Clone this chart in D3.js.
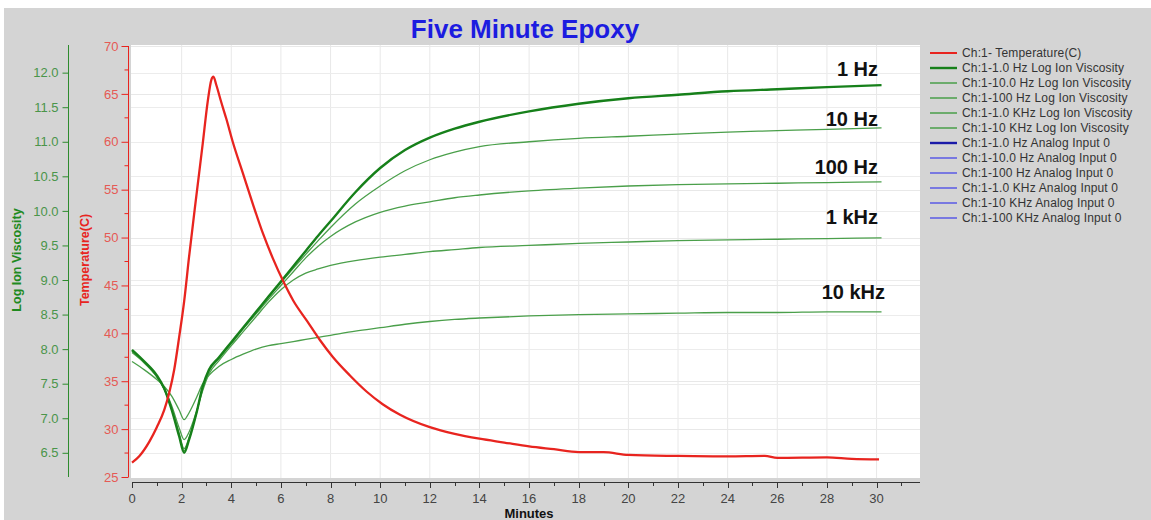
<!DOCTYPE html>
<html><head><meta charset="utf-8">
<script src="https://cdn.jsdelivr.net/npm/d3@7"></script>
<style>
html,body{margin:0;padding:0;background:#fff;}
svg{display:block;font-family:Arial,"Liberation Sans",sans-serif;}
</style></head>
<body><svg id="chart" width="1151" height="520"></svg>
<script>
// ---------- DATA ----------
const chartTitle = "Five Minute Epoxy";
const xTitle = "Minutes";
const yViscTitle = "Log Ion Viscosity";
const yTempTitle = "Temperature(C)";

const tempTime = [0,0.3,0.7,1.0,1.3,1.5,1.7,1.9,2.1,2.3,2.6,2.85,3.05,3.2,3.28,3.4,3.6,3.8,4.07,4.47,4.87,5.28,5.68,6.1,6.5,7.05,7.57,8.1,8.78,9.46,10.1,10.8,12,13,14,15,16,17,18,19,20,22,24,25.5,26,28,29,30.1];
const tempValues = [26.5,27.2,28.7,30.2,32.0,33.8,36.2,39.6,43.3,48.0,54.5,59.8,64.2,66.5,66.8,65.9,64.1,62.4,59.9,56.7,53.5,50.4,47.8,45.4,43.4,41.3,39.3,37.5,35.6,33.9,32.6,31.5,30.2,29.5,29.0,28.6,28.2,27.9,27.6,27.6,27.3,27.2,27.15,27.2,27.0,27.05,26.9,26.85];

const viscTime = [0,0.5,1.0,1.3,1.6,1.9,2.1,2.3,2.6,2.85,3.1,3.5,4,4.5,5,5.5,6,6.5,7,7.5,8,9,10,11,12,13,14,16,18,20,22,24,26,28,30.2];
const visc1Hz   = [7.99,7.82,7.62,7.43,7.12,6.74,6.50,6.69,7.08,7.46,7.70,7.88,8.10,8.32,8.54,8.76,8.98,9.20,9.42,9.64,9.85,10.27,10.62,10.88,11.06,11.19,11.29,11.44,11.55,11.63,11.68,11.73,11.76,11.79,11.82];
const visc10Hz  = [7.97,7.81,7.61,7.42,7.13,6.76,6.53,6.70,7.08,7.45,7.69,7.87,8.09,8.31,8.53,8.75,8.96,9.17,9.37,9.57,9.76,10.10,10.36,10.58,10.74,10.85,10.93,11.00,11.05,11.08,11.11,11.14,11.16,11.18,11.20];
const visc100Hz = [7.97,7.80,7.60,7.42,7.14,6.78,6.56,6.72,7.08,7.44,7.68,7.86,8.08,8.30,8.51,8.72,8.92,9.12,9.32,9.49,9.63,9.84,9.98,10.07,10.13,10.19,10.23,10.29,10.33,10.36,10.38,10.39,10.40,10.41,10.42];
const visc1kHz  = [7.95,7.80,7.60,7.43,7.18,6.86,6.69,6.80,7.10,7.40,7.64,7.83,8.05,8.26,8.47,8.68,8.86,9.00,9.10,9.16,9.21,9.28,9.33,9.37,9.41,9.44,9.47,9.50,9.53,9.55,9.57,9.58,9.59,9.60,9.61];
const visc10kHz = [7.82,7.70,7.56,7.46,7.32,7.12,6.98,7.08,7.30,7.50,7.62,7.75,7.85,7.93,8.00,8.05,8.08,8.11,8.14,8.17,8.20,8.26,8.31,8.36,8.40,8.43,8.45,8.48,8.50,8.51,8.52,8.53,8.53,8.54,8.54];

const curveLabels = ["1 Hz","10 Hz","100 Hz","1 kHz","10 kHz"];
const legendLabels = [
 "Ch:1- Temperature(C)",
 "Ch:1-1.0 Hz Log Ion Viscosity",
 "Ch:1-10.0 Hz Log Ion Viscosity",
 "Ch:1-100 Hz Log Ion Viscosity",
 "Ch:1-1.0 KHz Log Ion Viscosity",
 "Ch:1-10 KHz Log Ion Viscosity",
 "Ch:1-1.0 Hz Analog Input 0",
 "Ch:1-10.0 Hz Analog Input 0",
 "Ch:1-100 Hz Analog Input 0",
 "Ch:1-1.0 KHz Analog Input 0",
 "Ch:1-10 KHz Analog Input 0",
 "Ch:1-100 KHz Analog Input 0"
];
const xTicks = d3.range(0, 32, 1);
const xLabelTicks = d3.range(0, 31, 2);
const tempTicks = d3.range(25, 71, 5);
const tempMinorTicks = d3.range(27.5, 70, 5);
const viscTicks = [6.5,7.0,7.5,8.0,8.5,9.0,9.5,10.0,10.5,11.0,11.5,12.0];

// ---------- STYLE ----------
const BG = "#d4d4d4";
const RED = "#e8241f";
const RED_TXT = "#e55a55";
const GREEN_DARK = "#16801a";
const GREEN = "#4a9f4a";
const GREEN_TXT = "#4a954a";
const BLUE_DARK = "#1a1aa8";
const BLUE = "#5a5ae6";

const svg = d3.select("#chart");
svg.append("rect").attr("x",0).attr("y",0).attr("width",1151).attr("height",520).attr("fill","#fff");
svg.append("rect").attr("x",4).attr("y",8).attr("width",1147).attr("height",512).attr("fill",BG);

const plot = {left:131, right:920, top:45, bottom:478};
svg.append("rect").attr("x",plot.left).attr("y",plot.top)
  .attr("width",plot.right-plot.left).attr("height",plot.bottom-plot.top).attr("fill","#fff");

const x = d3.scaleLinear().domain([0,31.75]).range([132,920]);
const yT = d3.scaleLinear().domain([25,70]).range([477,46]);
const yV = d3.scaleLinear().domain([6.15,12.4]).range([477,45]);

// grid
const grid = svg.append("g");
grid.selectAll("line.v").data(d3.range(2,32,2)).join("line")
  .attr("x1",d=>x(d)).attr("x2",d=>x(d)).attr("y1",plot.top).attr("y2",plot.bottom)
  .attr("stroke","#e8e8e8").attr("stroke-width",1);
grid.selectAll("line.ht").data(tempTicks.slice(1)).join("line")
  .attr("x1",plot.left).attr("x2",plot.right).attr("y1",d=>Math.round(yT(d))+0.5).attr("y2",d=>Math.round(yT(d))+0.5)
  .attr("stroke","#e8e8e8");
grid.selectAll("line.hv").data(viscTicks).join("line")
  .attr("x1",plot.left).attr("x2",plot.right).attr("y1",d=>Math.round(yV(d))+0.5).attr("y2",d=>Math.round(yV(d))+0.5)
  .attr("stroke","#ececec");

// title
svg.append("text").attr("x",525).attr("y",38).attr("text-anchor","middle")
  .attr("font-size",26).attr("font-weight","bold").attr("fill","#1c1ce0").text(chartTitle);

// x axis
const xAxisG = svg.append("g").attr("transform","translate(0,482)");
xAxisG.append("line").attr("x1",132).attr("x2",920).attr("y1",0.5).attr("y2",0.5).attr("stroke","#333");
xAxisG.selectAll("line.t").data(xTicks).join("line")
  .attr("x1",d=>Math.round(x(d))+0.5).attr("x2",d=>Math.round(x(d))+0.5)
  .attr("y1",0).attr("y2",d=>d%2===0?6:4).attr("stroke","#333");
xAxisG.selectAll("text").data(xLabelTicks).join("text")
  .attr("x",d=>x(d)).attr("y",21).attr("text-anchor","middle")
  .attr("font-size",13).attr("fill","#444").text(d=>d);
svg.append("text").attr("x",529).attr("y",518).attr("text-anchor","middle")
  .attr("font-size",13).attr("font-weight","bold").attr("fill","#111").text(xTitle);

// temperature axis
const tAxis = d3.axisLeft(yT).tickValues(tempTicks).tickSize(7).tickPadding(3).tickFormat(d3.format("d"));
const tAxisG = svg.append("g").attr("transform","translate(128.5,0)").call(tAxis);
tAxisG.select(".domain").attr("stroke",RED).attr("d","M0,46V477");
tAxisG.selectAll(".tick line").attr("stroke",RED);
tAxisG.selectAll(".tick text").attr("fill",RED_TXT).attr("font-size",13).attr("font-family","Arial, Liberation Sans, sans-serif");
tAxisG.selectAll("line.minor").data(tempMinorTicks).join("line").attr("class","minor")
  .attr("x1",-4).attr("x2",0).attr("y1",d=>yT(d)).attr("y2",d=>yT(d)).attr("stroke",RED);
svg.append("text").attr("transform","translate(89,260) rotate(-90)").attr("text-anchor","middle")
  .attr("font-size",12.5).attr("font-weight","bold").attr("fill",RED).text(yTempTitle);

// viscosity axis
const vAxis = d3.axisLeft(yV).tickValues(viscTicks).tickSize(6).tickPadding(4).tickFormat(d3.format(".1f"));
const vAxisG = svg.append("g").attr("transform","translate(68.5,0)").call(vAxis);
vAxisG.select(".domain").attr("stroke","#2e8b2e").attr("d","M0,45V477");
vAxisG.selectAll(".tick line").attr("stroke","#2e8b2e");
vAxisG.selectAll(".tick text").attr("fill",GREEN_TXT).attr("font-size",13).attr("font-family","Arial, Liberation Sans, sans-serif");
svg.append("text").attr("transform","translate(21,260) rotate(-90)").attr("text-anchor","middle")
  .attr("font-size",12.5).attr("font-weight","bold").attr("fill","#1f8a1f").text(yViscTitle);

// lines
const clip = svg.append("defs").append("clipPath").attr("id","pc").append("rect")
  .attr("x",plot.left).attr("y",plot.top).attr("width",plot.right-plot.left).attr("height",plot.bottom-plot.top);
const lines = svg.append("g").attr("clip-path","url(#pc)");
const viscLine = d3.line().x((d,i)=>x(viscTime[i])).y(d=>yV(d)).curve(d3.curveMonotoneX);
const viscSeries = [
  {v:visc10kHz,c:GREEN,w:1.3},
  {v:visc1kHz,c:GREEN,w:1.3},
  {v:visc100Hz,c:GREEN,w:1.3},
  {v:visc10Hz,c:GREEN,w:1.3},
  {v:visc1Hz,c:GREEN_DARK,w:2.4}
];
viscSeries.forEach(s=>{
  lines.append("path").datum(s.v).attr("d",viscLine).attr("fill","none")
    .attr("stroke",s.c).attr("stroke-width",s.w).attr("stroke-linejoin","round");
});
const tempLine = d3.line().x((d,i)=>x(tempTime[i])).y(d=>yT(d)).curve(d3.curveMonotoneX);
lines.append("path").datum(tempValues).attr("d",tempLine).attr("fill","none")
  .attr("stroke",RED).attr("stroke-width",2.3).attr("stroke-linejoin","round");

// curve labels
const labelEnds = [visc1Hz, visc10Hz, visc100Hz, visc1kHz, visc10kHz].map(a=>a[a.length-1]);
const labelOffsets = [-9,-2,-8,-14,-13];
const labelDx = [878,878,878,878,885];
svg.selectAll("text.cl").data(curveLabels).join("text").attr("class","cl")
  .attr("x",(d,i)=>labelDx[i]).attr("y",(d,i)=>yV(labelEnds[i])+labelOffsets[i])
  .attr("text-anchor","end").attr("font-size",20).attr("font-weight","bold").attr("fill","#111").text(d=>d);

// legend
const legendColors = [RED,GREEN_DARK,GREEN,GREEN,GREEN,GREEN,BLUE_DARK,BLUE,BLUE,BLUE,BLUE,BLUE];
const legendWidths = [2,2.4,1.5,1.5,1.5,1.5,2.4,1.5,1.5,1.5,1.5,1.5];
const lg = svg.append("g");
legendLabels.forEach((t,i)=>{
  const yy = 53 + i*15;
  lg.append("line").attr("x1",930).attr("x2",957).attr("y1",yy).attr("y2",yy)
    .attr("stroke",legendColors[i]).attr("stroke-width",legendWidths[i]);
  lg.append("text").attr("x",962).attr("y",yy+4).attr("font-size",12).attr("letter-spacing","0.15")
    .attr("fill","#333").text(t);
});
</script></body></html>
